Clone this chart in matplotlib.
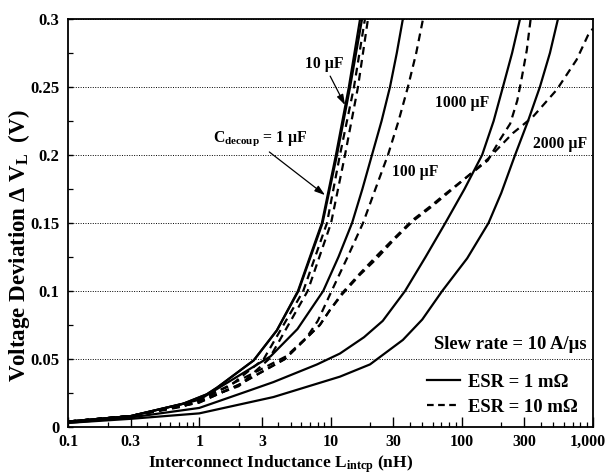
import matplotlib
matplotlib.use('Agg')
import matplotlib.pyplot as plt
from matplotlib.lines import Line2D
from matplotlib.transforms import ScaledTranslation
from matplotlib.ticker import FixedLocator, FixedFormatter, LogLocator, NullFormatter, MultipleLocator

plt.rcParams['font.family'] = ['Liberation Serif', 'DejaVu Serif']
plt.rcParams['font.weight'] = 'bold'
plt.rcParams['mathtext.fontset'] = 'custom'
plt.rcParams['mathtext.rm'] = 'Liberation Serif:bold'
plt.rcParams['mathtext.it'] = 'Liberation Serif:bold'
plt.rcParams['mathtext.bf'] = 'Liberation Serif:bold'

# ---------------- data ----------------
x_ticks = [0.1, 0.3, 1, 3, 10, 30, 100, 300, 1000]
x_tick_labels = ['0.1', '0.3', '1', '3', '10', '30', '100', '300', '1,000']
y_ticks = [0, 0.05, 0.1, 0.15, 0.2, 0.25, 0.3]
y_tick_labels = ['0', '0.05', '0.1', '0.15', '0.2', '0.25', '0.3']

# ESR = 1 mOhm (solid)
c1_solid_L = [0.1, 0.3, 0.75, 1.14, 1.37, 2.6, 3.9, 5.65, 7.9, 8.6, 11.0, 13.8, 16.8]
c1_solid_V = [0.004, 0.008, 0.017, 0.024, 0.029, 0.049, 0.071, 0.100, 0.140, 0.150, 0.200, 0.250, 0.300]
c10_solid_L = [0.1, 0.3, 0.75, 1.14, 1.37, 2.6, 3.9, 5.7, 8.0, 8.7, 11.2, 14.1, 17.4]
c10_solid_V = [0.004, 0.008, 0.017, 0.024, 0.029, 0.049, 0.071, 0.100, 0.140, 0.150, 0.200, 0.250, 0.300]
c100_solid_L = [0.1, 0.3, 1.0, 1.8, 3.5, 5.6, 8.8, 11.5, 14.6, 17.5, 20.7, 24.5, 28.4, 32, 35.6]
c100_solid_V = [0.004, 0.008, 0.020, 0.035, 0.052, 0.072, 0.100, 0.125, 0.150, 0.175, 0.200, 0.225, 0.250, 0.275, 0.300]
c1000_solid_L = [0.1, 0.3, 1.0, 2.44, 3.67, 7.9, 11.8, 18, 25, 37, 53, 75, 105, 143, 175, 206, 242, 278]
c1000_solid_V = [0.003, 0.007, 0.014, 0.027, 0.033, 0.046, 0.054, 0.066, 0.078, 0.100, 0.125, 0.150, 0.175, 0.200, 0.225, 0.250, 0.275, 0.300]
c2000_solid_L = [0.1, 0.3, 1.0, 3.67, 11.8, 20, 35.6, 50, 71, 110, 160, 200, 255, 320, 394, 470, 541]
c2000_solid_V = [0.003, 0.006, 0.010, 0.022, 0.037, 0.046, 0.064, 0.079, 0.100, 0.124, 0.150, 0.172, 0.200, 0.225, 0.250, 0.275, 0.300]

# ESR = 10 mOhm (dashed)
c1_dash_L = [0.1, 0.3, 0.7, 1.7, 3.1, 6.2, 9.4, 11.8, 15.1, 18.3]
c1_dash_V = [0.004, 0.008, 0.015, 0.030, 0.050, 0.100, 0.150, 0.200, 0.250, 0.300]
c10_dash_L = [0.1, 0.3, 0.75, 2.0, 3.4, 6.7, 10.1, 12.9, 16.2, 19.3]
c10_dash_V = [0.004, 0.008, 0.015, 0.030, 0.050, 0.100, 0.150, 0.200, 0.250, 0.300]
c100_dash_L = [0.1, 0.3, 1.0, 1.8, 2.9, 4.6, 6.6, 8.0, 10.2, 13.5, 17.7, 22, 27.4, 33, 38.9, 45, 50.7]
c100_dash_V = [0.004, 0.008, 0.019, 0.032, 0.042, 0.052, 0.066, 0.078, 0.100, 0.125, 0.150, 0.175, 0.200, 0.225, 0.250, 0.275, 0.300]
c1000_dash_L = [0.1, 0.3, 1.0, 2.0, 4.5, 8.3, 9.9, 12.4, 16.8, 22.6, 30, 42, 59, 72, 110, 158, 195, 234, 265, 287, 313, 335]
c1000_dash_V = [0.004, 0.008, 0.018, 0.031, 0.050, 0.075, 0.086, 0.099, 0.113, 0.126, 0.138, 0.152, 0.163, 0.170, 0.184, 0.196, 0.211, 0.223, 0.240, 0.257, 0.277, 0.300]
c2000_dash_L = [0.1, 0.3, 1.0, 2.0, 4.5, 8.3, 9.9, 12.4, 16.8, 22.6, 30, 42, 59, 72, 110, 158, 245, 348, 530, 750, 916, 1000]
c2000_dash_V = [0.004, 0.008, 0.018, 0.031, 0.050, 0.075, 0.086, 0.098, 0.112, 0.124, 0.137, 0.151, 0.162, 0.169, 0.184, 0.197, 0.216, 0.228, 0.248, 0.270, 0.288, 0.293]

solid_curves = [(c1_solid_L, c1_solid_V), (c10_solid_L, c10_solid_V), (c100_solid_L, c100_solid_V),
                (c1000_solid_L, c1000_solid_V), (c2000_solid_L, c2000_solid_V)]
dash_curves = [(c1_dash_L, c1_dash_V), (c10_dash_L, c10_dash_V), (c100_dash_L, c100_dash_V),
               (c1000_dash_L, c1000_dash_V), (c2000_dash_L, c2000_dash_V)]

# ---------------- figure ----------------
fig = plt.figure(figsize=(6.09, 4.75), dpi=100)
ax = fig.add_axes([0.1117, 0.1011, 0.862, 0.859])

LW = 1.6
DASH = (0, (3.5, 2.4))
for L, V in solid_curves:
    ax.plot(L, V, color='black', lw=LW, ls='-', solid_joinstyle='round')
for L, V in dash_curves:
    ax.plot(L, V, color='black', lw=LW, ls=DASH)

ax.set_xscale('log')
ax.set_xlim(0.1, 1000)
ax.set_ylim(0, 0.3)

ax.xaxis.set_major_locator(FixedLocator(x_ticks))
ax.xaxis.set_major_formatter(FixedFormatter(x_tick_labels))
ax.xaxis.set_minor_locator(LogLocator(base=10, subs=(2, 3, 4, 5, 6, 7, 8, 9)))
ax.xaxis.set_minor_formatter(NullFormatter())
ax.yaxis.set_major_locator(FixedLocator(y_ticks))
ax.yaxis.set_major_formatter(FixedFormatter(y_tick_labels))
ax.yaxis.set_minor_locator(MultipleLocator(0.025))

ax.tick_params(which='both', direction='in', top=False, right=False, color='black')
ax.tick_params(axis='x', which='major', length=7, width=1.0, pad=5, labelsize=11.5)
ax.tick_params(axis='x', which='minor', length=3.5, width=0.9)
ax.tick_params(axis='y', which='major', length=3.5, width=1.0, pad=6, labelsize=12)
ax.tick_params(axis='y', which='minor', length=3.5, width=0.9)
for lab in ax.get_xticklabels() + ax.get_yticklabels():
    lab.set_fontweight('bold')
# keep the last x tick label inside the figure
last = ax.get_xticklabels()[-1]
last.set_transform(last.get_transform() + ScaledTranslation(-5 / 100, 0, fig.dpi_scale_trans))

ax.yaxis.grid(True, which='major', color='black', lw=0.7, ls=(0, (1, 1.5)))
ax.set_axisbelow(False)
for s in ax.spines.values():
    s.set_linewidth(1.3)

ax.set_xlabel('Interconnect Inductance L$_{\\mathrm{intcp}}$ (nH)', fontsize=12.5, fontweight='bold')
ax.xaxis.set_label_coords(0.404, -0.064)
ax.set_ylabel('Voltage Deviation \u0394 V$_{\\mathrm{L}}$  (V)', fontsize=16.5, fontweight='bold')
ax.yaxis.set_label_coords(-0.094, 0.444)
ax.yaxis.label.set_va('center')

# annotations
FS_ANN = 11.3
arrow = dict(arrowstyle='-|>,head_length=0.55,head_width=0.18', color='black', lw=0.9,
             shrinkA=1, shrinkB=0)
ax.annotate('10 \u00b5F', xy=(12.9, 0.2367), xytext=(8.92, 0.2668), fontsize=FS_ANN,
            fontweight='bold', ha='center', va='center', arrowprops=arrow)
ax.annotate('C$_{\\mathrm{decoup}}$ = 1 \u00b5F', xy=(9.08, 0.1705), xytext=(2.90, 0.2117),
            fontsize=FS_ANN, fontweight='bold', ha='center', va='center',
            arrowprops=dict(arrow, relpos=(0.55, 0.0)))
ax.text(100.5, 0.238, '1000 \u00b5F', fontsize=FS_ANN, fontweight='bold', ha='center', va='center')
ax.text(561, 0.208, '2000 \u00b5F', fontsize=FS_ANN, fontweight='bold', ha='center', va='center')
ax.text(44, 0.1874, '100 \u00b5F', fontsize=FS_ANN, fontweight='bold', ha='center', va='center')

ax.text(0.9886, 0.201, 'Slew rate = 10 A/\u00b5s', transform=ax.transAxes, fontsize=13.4,
        fontweight='bold', ha='right', va='center')
handles = [Line2D([], [], color='black', lw=LW, ls='-'),
           Line2D([], [], color='black', lw=LW, ls=(0, (3.0, 2.0)))]
leg = ax.legend(handles, ['ESR = 1 m\u03a9', 'ESR = 10 m\u03a9'], loc='lower left',
                bbox_to_anchor=(0.683, 0.028), frameon=False, borderpad=0, borderaxespad=0,
                handlelength=1.8, handletextpad=0.45, labelspacing=0.42,
                prop={'family': 'Liberation Serif', 'weight': 'bold', 'size': 13.4})

fig.savefig('out.png', dpi=100)
